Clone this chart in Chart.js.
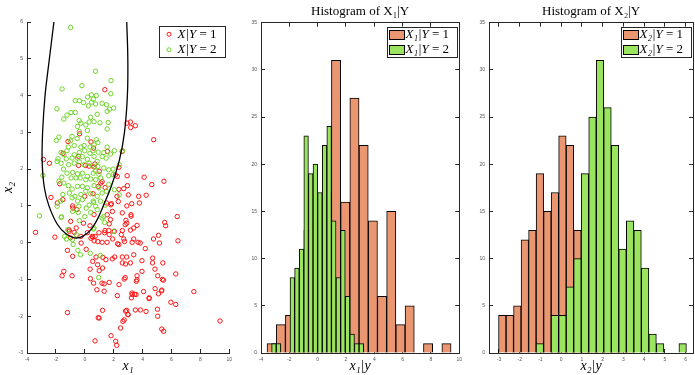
<!DOCTYPE html>
<html>
<head>
<meta charset="utf-8">
<script src="https://cdn.jsdelivr.net/npm/chart.js@4.4.1/dist/chart.umd.min.js"></script>
<style>
  body { margin: 0; background: #fff; }
  canvas { position: absolute; top: 0; }
</style>
</head>
<body>
<canvas id="scatterPlot" width="240" height="375" style="left:0px"></canvas>
<canvas id="histX1" width="230" height="375" style="left:240px"></canvas>
<canvas id="histX2" width="225" height="375" style="left:470px"></canvas>
<script>
// ---- scatter: X|Y=1 (red) and X|Y=2 (green) ----
const redX1 = [-2.86,-2.45,-1.73,-1.16,-1.5,-0.36,1.39,0.61,0.43,-0.43,-0.43,0.05,0.7,1.0,1.57,2.59,2.36,2.93,3.16,3.18,3.5,4.77,4.11,4.64,5.48,2.25,2.93,2.95,2.7,1.11,1.41,-2.34,-1.52,-1.9,0.0,0.57,0.93,1.2,2.12,3.02,2.23,1.84,1.5,3.25,3.73,4.25,2.36,-0.84,0.64,0.3,3.78,1.8,2.32,
  -3.41,-2.07,-0.82,-0.55,-0.98,-1.09,-0.59,-0.09,-0.25,0.43,0.55,0.65,0.72,0.9,1.2,1.54,1.93,1.91,2.6,3.21,2.85,2.8,3.62,3.39,3.16,1.69,1.4,1.69,2.75,3.28,3.69,4.76,5.17,5.53,5.6,5.1,6.4,6.45,0.64,0.36,1.55,1.78,2.91,3.2,2.91,2.6,2.53,2.05,1.66,1.37,0.98,0.52,0.18,-0.27,-0.73,-1.07,-1.0,3.39,2.7,
  -1.2,-0.84,0.1,2.27,4.19,5.4,4.69,3.96,3.39,2.6,2.9,2.6,1.91,1.46,1.25,0.78,0.55,0.89,1.23,1.0,0.37,0.39,-1.45,-1.57,-0.88,2.73,2.8,3.62,3.96,5.05,6.3,4.7,4.86,2.36,3.84,2.07,2.82,3.16,
  0.61,1.19,1.34,1.69,0.84,1.34,2.37,3.57,3.61,3.28,3.55,3.23,2.25,2.82,2.9,3.0,3.5,3.85,4.24,4.46,4.87,5.1,5.33,5.03,5.05,5.96,6.3,5.37,5.45,1.23,1.0,-1.2,7.55,4.07,4.45,3.45,3.27,2.98,2.73,5.32,
  2.64,2.48,1.82,2.14,2.21,0.71,5.33,5.46,9.36,0.93];
const redX2 = [2.26,2.16,1.6,2.75,2.43,2.96,4.16,2.57,2.74,2.35,2.1,2.1,2.14,1.94,2.48,2.48,2.05,3.25,3.28,3.13,3.18,2.8,1.78,1.58,1.67,1.8,1.82,1.55,1.47,1.62,1.5,1.23,1.17,1.08,1.26,1.33,1.53,1.66,1.84,1.3,1.26,1.06,1.08,1.06,1.26,1.29,1.45,1.0,2.06,2.08,1.08,1.03,1.12,
  0.28,0.15,0.94,0.9,0.58,0.35,0.4,0.53,-0.01,0.12,0.15,0.05,0.17,0.03,0.01,0.01,0.1,0.85,0.81,0.72,0.61,0.49,0.47,0.4,0.34,0.51,0.33,0.22,0.03,0.01,0.01,0.1,-0.01,0.55,0.46,0.2,0.71,0.05,0.76,0.46,0.76,0.63,1.0,0.76,0.53,0.33,0.22,0.31,0.33,0.27,0.27,0.17,0.27,0.17,0.28,0.31,0.13,0.1,0.1,
  -0.21,-0.37,-0.18,-0.03,-0.16,-0.55,-0.55,-0.49,-0.33,-0.39,-0.39,-0.55,-0.44,-0.46,-0.4,-0.39,-0.51,-0.6,-0.69,-0.76,-0.72,-0.98,-0.78,-0.9,-0.9,-0.99,-0.95,-0.9,-0.78,-0.9,-0.85,-0.42,-0.72,-0.05,-0.01,-0.39,-0.58,-0.55,
  -1.1,-1.1,-1.12,-1.08,-1.28,-1.32,-1.14,-1.05,-1.01,-1.41,-1.41,-1.5,-1.44,-1.86,-1.84,-1.96,-1.83,-1.83,-1.87,-1.5,-1.25,-1.39,-1.29,-1.81,-2.0,-1.62,-1.68,-1.0,-1.02,-1.84,-2.05,-1.9,-1.33,-1.33,-1.52,-1.4,-1.37,-1.95,-2.1,-1.31,
  -2.14,-2.32,-2.53,-2.68,-2.79,-2.67,-2.35,-2.41,-2.13,-2.04];
const greenX1 = [0.75,-0.2,-1.57,1.82,1.8,0.46,0.8,0.2,0.59,-0.66,-0.38,-0.09,0.48,0.75,1.2,1.5,-1.93,0.25,1.71,2.0,-0.95,-0.66,-1.23,-1.45,1.55,0.41,0.86,0.3,-0.38,-0.27,0.64,1.05,1.62,0.07,-0.5,1.55,0.18,-0.38,
  -0.88,-1.79,-1.97,-0.99,-0.53,0.18,0.8,0.91,0.64,0.36,-0.05,-0.27,-0.73,-1.14,-1.23,-1.64,-1.45,1.55,2.05,1.32,1.78,0.93,0.57,0.36,0.0,-0.38,-0.73,-0.88,-0.5,-0.16,0.18,0.64,0.86,1.2,1.48,
  -1.86,-1.91,-1.28,-1.64,-1.11,-0.73,-0.38,-0.05,0.3,0.52,0.91,1.32,1.66,1.96,2.62,2.39,-1.48,-1.23,-0.84,-0.5,-0.16,0.18,0.59,0.75,0.98,-0.95,-0.61,-0.32,0.07,0.41,0.75,1.09,1.66,1.96,
  -1.59,-2.9,-1.79,-1.45,-1.14,-0.88,-0.5,-0.16,0.18,0.64,0.98,1.66,2.05,-1.07,-0.68,-0.27,0.07,0.41,0.86,1.2,1.5,2.39,-1.52,-1.68,-0.88,-0.5,-0.16,0.3,0.59,0.75,1.09,1.43,
  -0.84,-0.45,-0.38,0.0,0.41,0.86,1.2,1.32,1.37,-1.64,-3.14,-1.18,-1.4,0.64,-0.98,-1.91,-1.61,-1.27,-0.86,-0.8,-0.59,-0.48,-0.3,0.38,1.07,0.96,1.98,0.62,0.6,-0.41,0.1];
const greenX2 = [4.66,4.27,4.18,4.41,4.05,4.02,4.0,3.96,3.9,3.86,3.86,3.81,3.82,3.77,3.79,3.75,3.64,3.72,3.63,3.66,3.54,3.54,3.47,3.36,3.57,3.41,3.49,3.28,3.32,3.25,3.29,3.26,3.27,3.2,3.16,3.09,3.05,3.02,
  2.89,2.87,2.78,2.77,2.83,2.84,2.8,2.72,2.66,2.6,2.64,2.6,2.64,2.6,2.5,2.45,2.39,2.6,2.5,2.45,2.41,2.46,2.5,2.43,2.5,2.45,2.39,2.3,2.3,2.34,2.27,2.34,2.21,2.34,2.3,
  2.28,2.21,2.28,2.16,2.12,2.16,2.2,2.12,2.16,2.09,2.07,2.03,1.98,2.0,2.5,2.12,2.0,1.89,1.91,1.87,1.89,1.8,1.89,1.95,1.86,1.76,1.76,1.76,1.71,1.73,1.71,1.76,1.82,1.85,
  1.78,1.83,1.67,1.62,1.55,1.46,1.53,1.53,1.49,1.55,1.49,1.58,1.44,1.35,1.26,1.31,1.4,1.33,1.26,1.35,1.4,1.3,1.31,1.13,1.22,1.13,1.17,1.02,1.13,0.99,1.13,1.02,
  0.85,0.82,0.6,0.71,0.82,0.9,0.67,0.71,0.55,0.69,0.73,0.35,0.17,0.4,5.85,0.99,0.7,0.1,0.08,-0.05,0.22,-0.21,-0.33,-0.29,-0.35,-0.95,0.31,1.09,0.37,0.99,0.94];

// decision boundary, points
const boundX1 = [-2.12,-2.45,-2.75,-2.92,-2.95,-2.8,-2.48,-1.9,-1.3,-0.7,-0.15,0.4,0.85,1.28,1.85,2.4,2.75,2.95,2.98,2.9];
const boundX2 = [6.05,5.0,4.0,3.0,2.2,1.5,1.0,0.5,0.24,0.13,0.17,0.34,0.62,1.0,1.55,2.25,3.0,4.0,5.0,6.05];

// ---- histogram of X1|Y ----
const h1CentersY1 = [-3.25,-2.6,-1.95,-1.3,-0.65,0,0.65,1.3,1.95,2.6,3.25,3.9,4.55,5.2,5.85,6.5,7.15,7.8,8.45,9.1];
const h1CountsY1  = [1,3,4,7,13,14,17,31,16,27,22,14,6,15,3,5,0,1,0,1];
const h1CentersY2 = [-3.0875,-2.7625,-2.4375,-2.1125,-1.7875,-1.4625,-1.1375,-0.8125,-0.4875,-0.1625,0.1625,0.4875,0.8125,1.1375,1.4625,1.7875,2.1125,2.4375,2.7625,3.0875];
const h1CountsY2  = [1,1,0,0,8,9,11,23,19,20,17,22,24,14,8,13,6,2,1,1];

// ---- histogram of X2|Y ----
const h2Centers  = [-2.839,-2.476,-2.114,-1.751,-1.389,-1.026,-0.664,-0.301,0.061,0.424,0.786,1.149,1.511,1.874,2.236,2.599,2.961,3.324,3.686,4.049,4.411,4.774,5.136,5.499,5.861];
const h2CountsY1 = [4,4,5,12,13,19,15,17,23,22,13,15,13,10,7,5,2,1,0,0,0,0,0,0,0];
const h2CountsY2 = [0,0,0,0,0,1,0,4,4,7,10,19,25,31,26,22,11,14,13,9,2,1,0,0,1];

// ticks
const scatterXTicks = [-4,-2,0,2,4,6,8,10];
const scatterYTicks = [-3,-2,-1,0,1,2,3,4,5,6];
const h1XTicks = [-4,-2,0,2,4,6,8,10];
const h2XTicks = [-3,-2,-1,0,1,2,3,4,5,6];
const countTicks = [0,5,10,15,20,25,30,35];

const titles = ['Histogram of X\u2081|Y', 'Histogram of X\u2082|Y'];
const legendScatter = [['X|Y', ' = 1'], ['X|Y', ' = 2']];
const legendH1 = [['X\u2081|Y', ' = 1'], ['X\u2081|Y', ' = 2']];
const legendH2 = [['X\u2082|Y', ' = 1'], ['X\u2082|Y', ' = 2']];

const RED = 'rgb(255,20,20)';
const GREEN = 'rgb(110,212,40)';
const ORANGE = 'rgb(233,150,113)';
const LIME = 'rgb(155,228,95)';
const AXIS = '#262626';

const zip = (a, b) => a.map((v, i) => ({x: v, y: b[i]}));

// legend in a box at the top right of the axes
const boxLegend = {
  id: 'boxLegend',
  afterDatasetsDraw(chart, args, o) {
    if (!o.items) return;
    const ctx = chart.ctx, a = chart.chartArea;
    const x0 = Math.round(a.right - o.inset - o.width) + 0.5;
    const y0 = Math.round(a.top + 4) + 0.5;
    ctx.save();
    ctx.fillStyle = '#fff';
    ctx.fillRect(x0, y0, o.width, o.height);
    ctx.strokeStyle = AXIS;
    ctx.lineWidth = 1;
    ctx.strokeRect(x0, y0, o.width, o.height);
    o.items.forEach((it, i) => {
      const cy = y0 + o.height * (2 * i + 1) / 4;
      if (o.patch) {
        ctx.fillStyle = it.color;
        ctx.fillRect(x0 + 2, cy - 4.5, 15, 9);
        ctx.strokeStyle = '#000';
        ctx.strokeRect(x0 + 2, cy - 4.5, 15, 9);
      } else {
        ctx.beginPath();
        ctx.arc(x0 + 9.5, cy, 2, 0, Math.PI * 2);
        ctx.strokeStyle = it.color;
        ctx.stroke();
      }
      ctx.fillStyle = '#000';
      ctx.textBaseline = 'middle';
      let tx = x0 + o.textLeft;
      ctx.font = 'italic 13px "Liberation Serif"';
      ctx.fillText(it.text[0], tx, cy);
      tx += ctx.measureText(it.text[0]).width;
      ctx.font = '13px "Liberation Serif"';
      ctx.fillText(it.text[1], tx, cy);
    });
    ctx.restore();
  }
};

const tickFont = {family: '"Liberation Sans"', size: 5};
const titleFont = {family: '"Liberation Serif"', size: 14, style: 'italic'};

function axis(pos, min, max, tickVals, opts) {
  opts = opts || {};
  return {
    type: 'linear',
    position: pos,
    min: min,
    max: max,
    offset: false,
    display: true,
    afterBuildTicks: s => { s.ticks = tickVals.map(v => ({value: v})); },
    afterFit: s => {
      if (pos === 'left' || pos === 'right') s.width = opts.size; else s.height = opts.size;
    },
    grid: {offset: false, drawOnChartArea: false, drawTicks: true, tickLength: -4, color: AXIS, lineWidth: 1},
    border: {display: true, color: AXIS, width: 1},
    ticks: {display: !opts.hideLabels, font: tickFont, color: '#555', padding: 8, maxRotation: 0, autoSkip: false},
    title: opts.title ? {display: true, text: opts.title, font: titleFont, color: '#000', padding: 0} : {display: false}
  };
}

const common = {
  responsive: false,
  animation: false,
  devicePixelRatio: 1,
  events: []
};

// scatter
new Chart(document.getElementById('scatterPlot'), {
  type: 'scatter',
  data: {
    datasets: [
      {label: 'boundary', data: zip(boundX1, boundX2), showLine: true, pointRadius: 0,
       borderColor: '#000', borderWidth: 1.3, tension: 0.4, order: 0},
      {label: 'X|Y = 2', data: zip(greenX1, greenX2), pointRadius: 2.2, pointBorderWidth: 1,
       borderColor: GREEN, backgroundColor: 'rgba(0,0,0,0)', order: 1},
      {label: 'X|Y = 1', data: zip(redX1, redX2), pointRadius: 2.2, pointBorderWidth: 1,
       borderColor: RED, backgroundColor: 'rgba(0,0,0,0)', order: 2}
    ]
  },
  options: Object.assign({}, common, {
    layout: {padding: {top: 22, right: 8, left: 0, bottom: 0}},
    scales: {
      x: axis('bottom', -4, 10, scatterXTicks, {size: 22, title: 'x\u2081'}),
      y: axis('left', -3, 6, scatterYTicks, {size: 27, title: 'x\u2082'})
    },
    plugins: {
      legend: {display: false},
      tooltip: {enabled: false},
      boxLegend: {inset: 4, width: 66, height: 31, textLeft: 18,
        items: [{text: legendScatter[0], color: RED}, {text: legendScatter[1], color: GREEN}]}
    }
  }),
  plugins: [boxLegend]
});

function histChart(id, title, xMin, xMax, xTicks, c1, n1, c2, n2, legendText, yWidth, padRight, inset) {
  new Chart(document.getElementById(id), {
    type: 'bar',
    data: {
      datasets: [
        {label: legendText[1].join(''), data: zip(c2, n2), xAxisID: 'xTop', backgroundColor: LIME,
         borderColor: '#000', borderWidth: 1, categoryPercentage: 1, barPercentage: 1, grouped: false, order: 0},
        {label: legendText[0].join(''), data: zip(c1, n1), xAxisID: 'x', backgroundColor: ORANGE,
         borderColor: '#000', borderWidth: 1, categoryPercentage: 1, barPercentage: 1, grouped: false, order: 1}
      ]
    },
    options: Object.assign({}, common, {
      layout: {padding: {top: 0, right: padRight, left: 0, bottom: 0}},
      scales: {
        x: axis('bottom', xMin, xMax, xTicks, {size: 22, title: id === 'histX1' ? 'x\u2081|y' : 'x\u2082|y'}),
        xTop: axis('top', xMin, xMax, xTicks, {size: 0, hideLabels: true}),
        y: axis('left', 0, 35, countTicks, {size: yWidth}),
        yRight: axis('right', 0, 35, countTicks, {size: 0, hideLabels: true})
      },
      plugins: {
        legend: {display: false},
        tooltip: {enabled: false},
        title: {display: true, text: title, fullSize: false, color: '#000',
          font: {family: '"Liberation Serif"', size: 13, weight: 'normal', lineHeight: 1.2},
          padding: {top: 4, bottom: 3}},
        boxLegend: {inset: inset, width: 70, height: 30, textLeft: 18, patch: true,
          items: [{text: legendText[0], color: ORANGE}, {text: legendText[1], color: LIME}]}
      }
    }),
    plugins: [boxLegend]
  });
}

histChart('histX1', titles[0], -4, 10, h1XTicks, h1CentersY1, h1CountsY1, h1CentersY2, h1CountsY2, legendH1, 21, 8, 2);
histChart('histX2', titles[1], -3.48, 6.37, h2XTicks, h2Centers, h2CountsY1, h2Centers, h2CountsY2, legendH2, 19, 1, 2);
</script>
</body>
</html>
